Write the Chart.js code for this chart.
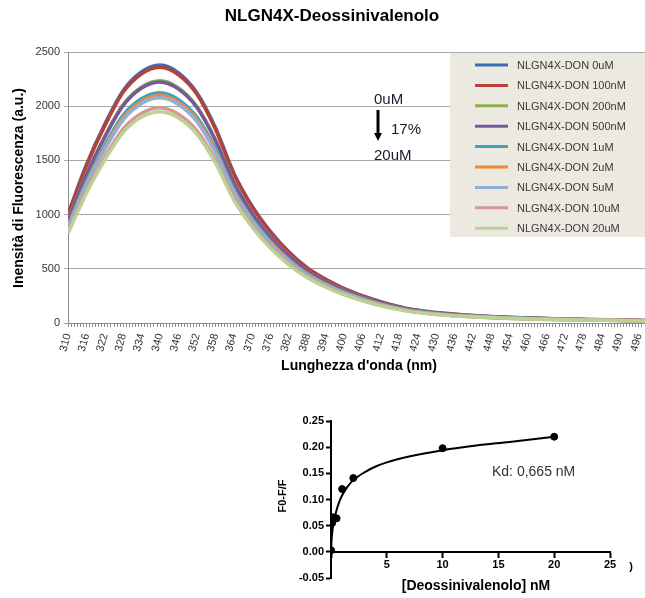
<!DOCTYPE html>
<html>
<head>
<meta charset="utf-8">
<script src="https://cdn.jsdelivr.net/npm/chart.js@4.4.1/dist/chart.umd.min.js"></script>
<style>
  body { margin: 0; background: #fff; }
  #spectrum { position: absolute; left: 0; top: 0; }
  #binding { position: absolute; left: 260px; top: 400px; }
</style>
</head>
<body>
<canvas id="spectrum" width="645" height="380"></canvas>
<canvas id="binding" width="385" height="198"></canvas>
<script>
// Emission spectra
const wavelengths = [310, 316, 322, 328, 334, 340, 346, 352, 358, 364, 370, 376, 382, 388, 394, 400, 410, 420, 430, 440, 455, 470, 485, 498];
const don0uM   = [1005, 1460, 1835, 2145, 2318, 2380, 2308, 2125, 1805, 1385, 1078, 843, 655, 509, 403, 318, 212, 136, 96, 73, 50, 38, 30, 22];
const don100nM = [1000, 1450, 1820, 2130, 2300, 2360, 2290, 2110, 1790, 1375, 1070, 835, 650, 505, 400, 315, 210, 135, 95, 72, 50, 38, 30, 22];
const don200nM = [947, 1373, 1724, 2017, 2178, 2235, 2169, 1998, 1695, 1302, 1013, 791, 616, 478, 379, 298, 199, 128, 90, 68, 47, 36, 28, 21];
const don500nM = [942, 1366, 1714, 2006, 2167, 2223, 2157, 1988, 1686, 1295, 1008, 787, 612, 476, 377, 297, 198, 127, 89, 68, 47, 36, 28, 21];
const don1uM   = [900, 1305, 1638, 1917, 2070, 2124, 2061, 1899, 1611, 1238, 963, 752, 585, 455, 360, 284, 189, 122, 86, 65, 45, 34, 27, 20];
const don2uM   = [889, 1289, 1618, 1894, 2045, 2098, 2036, 1876, 1591, 1222, 951, 743, 578, 449, 356, 280, 187, 120, 84, 64, 44, 34, 27, 20];
const don5uM   = [880, 1276, 1602, 1874, 2024, 2077, 2015, 1857, 1575, 1210, 942, 735, 572, 444, 352, 277, 185, 119, 84, 63, 44, 33, 26, 19];
const don10uM  = [841, 1219, 1531, 1791, 1934, 1985, 1926, 1775, 1505, 1156, 900, 702, 547, 425, 336, 265, 177, 114, 80, 61, 42, 32, 25, 19];
const don20uM  = [826, 1198, 1503, 1759, 1900, 1949, 1892, 1743, 1479, 1136, 884, 690, 537, 417, 330, 260, 173, 112, 78, 59, 41, 31, 25, 18];

const seriesLabels = ['NLGN4X-DON 0uM', 'NLGN4X-DON 100nM', 'NLGN4X-DON 200nM', 'NLGN4X-DON 500nM', 'NLGN4X-DON 1uM', 'NLGN4X-DON 2uM', 'NLGN4X-DON 5uM', 'NLGN4X-DON 10uM', 'NLGN4X-DON 20uM'];
const seriesValues = [don0uM, don100nM, don200nM, don500nM, don1uM, don2uM, don5uM, don10uM, don20uM];
const seriesColors = ['#3d6eb4', '#b8403c', '#8db048', '#74589a', '#3ba3bf', '#ee8a3a', '#92afd6', '#d99694', '#b9d393'];

// Binding curve
const donConc = [0, 0.1, 0.2, 0.5, 1, 2, 10, 20];
const quench = [0.003, 0.055, 0.066, 0.064, 0.12, 0.141, 0.198, 0.22];
const fitConc = [0, 0.05, 0.1, 0.2, 0.3, 0.5, 0.75, 1, 1.5, 2, 3, 4, 5, 7, 10, 13, 16, 20];
const fitQuench = [0, 0.022, 0.035, 0.052, 0.062, 0.08, 0.096, 0.108, 0.125, 0.137, 0.152, 0.163, 0.171, 0.182, 0.194, 0.203, 0.21, 0.22];

const FONT = 'Arial, "Liberation Sans", sans-serif';

// Titles, legend and arrow note for the spectrum chart
const spectrumDecor = {
  id: 'spectrumDecor',
  afterDraw(chart) {
    const ctx = chart.ctx;
    ctx.save();
    ctx.fillStyle = '#000';
    ctx.textAlign = 'center';
    ctx.textBaseline = 'middle';
    ctx.font = 'bold 17px ' + FONT;
    ctx.fillText('NLGN4X-Deossinivalenolo', 332, 16);
    ctx.font = 'bold 14px ' + FONT;
    ctx.fillText("Lunghezza d'onda (nm)", 359, 366);
    ctx.save();
    ctx.translate(19, 188);
    ctx.rotate(-Math.PI / 2);
    ctx.fillText('Inensità di Fluorescenza (a.u.)', 0, 0);
    ctx.restore();

    // legend box
    ctx.fillStyle = '#ebe9e0';
    ctx.fillRect(450, 53, 195, 184);
    ctx.textAlign = 'left';
    ctx.font = '11px ' + FONT;
    chart.data.datasets.forEach((ds, i) => {
      const y = 65 + i * 20.4;
      ctx.strokeStyle = ds.borderColor;
      ctx.lineWidth = 3;
      ctx.beginPath();
      ctx.moveTo(475, y);
      ctx.lineTo(508, y);
      ctx.stroke();
      ctx.fillStyle = '#3a3a3a';
      ctx.fillText(ds.label, 517, y + 1);
    });

    // 0uM -> 20uM note
    ctx.fillStyle = '#1a1a2e';
    ctx.font = '15px ' + FONT;
    ctx.fillText('0uM', 374, 100);
    ctx.fillText('17%', 391, 130);
    ctx.fillText('20uM', 374, 156);
    ctx.strokeStyle = '#000';
    ctx.lineWidth = 3;
    ctx.beginPath();
    ctx.moveTo(378, 110);
    ctx.lineTo(378, 134);
    ctx.stroke();
    ctx.fillStyle = '#000';
    ctx.beginPath();
    ctx.moveTo(374, 133);
    ctx.lineTo(382, 133);
    ctx.lineTo(378, 141);
    ctx.closePath();
    ctx.fill();
    ctx.restore();
  },
};

function createSpectrumChart() {
  const datasets = seriesValues.map((vals, i) => ({
    label: seriesLabels[i],
    data: wavelengths.map((w, j) => ({ x: w, y: vals[j] })),
    borderColor: seriesColors[i],
    borderWidth: 3.5,
    pointRadius: 0,
    cubicInterpolationMode: 'monotone',
    order: seriesValues.length - i,
  }));

  new Chart(document.getElementById('spectrum'), {
    type: 'line',
    data: { datasets },
    options: {
      responsive: false,
      animation: false,
      layout: { padding: { top: 52, right: 0, left: 0, bottom: 0 } },
      plugins: { legend: { display: false }, tooltip: { enabled: false } },
      scales: {
        x: {
          type: 'linear',
          min: 310,
          max: 498,
          afterFit: (scale) => {
            scale.height = 57;
            scale.paddingRight = 0;
          },
          grid: { drawOnChartArea: false, tickLength: 4, color: '#8c8c8c' },
          border: { color: '#8c8c8c' },
          ticks: {
            stepSize: 1,
            autoSkip: false,
            minRotation: 75,
            maxRotation: 75,
            padding: 5,
            color: '#333',
            font: { family: FONT, size: 11 },
            callback: (v) => ((v - 310) % 6 === 0 ? String(v) : ''),
          },
        },
        y: {
          min: 0,
          max: 2500,
          afterFit: (scale) => { scale.width = 68; },
          grid: { color: '#a8a8a8', tickLength: 4 },
          border: { color: '#8c8c8c' },
          ticks: {
            stepSize: 500,
            padding: 4,
            color: '#333',
            font: { family: FONT, size: 11 },
            callback: (v) => String(v),
          },
        },
      },
    },
    plugins: [spectrumDecor],
  });
}

// Axis titles and Kd note for the binding chart
const bindingDecor = {
  id: 'bindingDecor',
  afterDraw(chart) {
    const ctx = chart.ctx;
    ctx.save();
    ctx.fillStyle = '#000';
    ctx.textAlign = 'center';
    ctx.textBaseline = 'middle';
    ctx.font = 'bold 14px ' + FONT;
    ctx.fillText('[Deossinivalenolo] nM', 216, 186);
    ctx.font = 'bold 11px ' + FONT;
    ctx.save();
    ctx.translate(23, 96);
    ctx.rotate(-Math.PI / 2);
    ctx.fillText('F0-F/F', 0, 0);
    ctx.restore();
    ctx.fillText(')', 371, 167);
    ctx.fillStyle = '#333';
    ctx.font = '14px ' + FONT;
    ctx.textAlign = 'left';
    ctx.fillText('Kd: 0,665 nM', 232, 72);
    ctx.restore();
  },
};

function createBindingChart() {
  new Chart(document.getElementById('binding'), {
    type: 'scatter',
    data: {
      datasets: [
        {
          data: donConc.map((c, i) => ({ x: c, y: quench[i] })),
          backgroundColor: '#000',
          borderColor: '#000',
          pointRadius: 3.5,
        },
        {
          data: fitConc.map((c, i) => ({ x: c, y: fitQuench[i] })),
          showLine: true,
          borderColor: '#000',
          borderWidth: 2,
          pointRadius: 0,
          cubicInterpolationMode: 'monotone',
        },
      ],
    },
    options: {
      responsive: false,
      animation: false,
      layout: { padding: { top: 21, right: 35, left: 0, bottom: 20 } },
      plugins: { legend: { display: false }, tooltip: { enabled: false } },
      scales: {
        x: {
          type: 'linear',
          min: 0,
          max: 25,
          position: { y: 0 },
          afterFit: (scale) => { scale.height = 0; },
          grid: { drawOnChartArea: false, tickLength: 5, tickWidth: 2, color: '#000' },
          border: { color: '#000', width: 2 },
          ticks: {
            stepSize: 5,
            padding: 2,
            color: '#000',
            maxRotation: 0,
            font: { family: FONT, size: 11, weight: 'bold' },
            callback: (v) => (v === 0 ? '' : String(v)),
          },
        },
        y: {
          min: -0.05,
          max: 0.25,
          afterFit: (scale) => { scale.width = 71; },
          grid: { drawOnChartArea: false, tickLength: 5, tickWidth: 2, color: '#000' },
          border: { color: '#000', width: 2 },
          ticks: {
            stepSize: 0.05,
            padding: 2,
            color: '#000',
            font: { family: FONT, size: 11, weight: 'bold' },
            callback: (v) => (Math.abs(v) < 1e-9 ? 0 : v).toFixed(2),
          },
        },
      },
    },
    plugins: [bindingDecor],
  });
}

createSpectrumChart();
createBindingChart();
</script>
</body>
</html>
